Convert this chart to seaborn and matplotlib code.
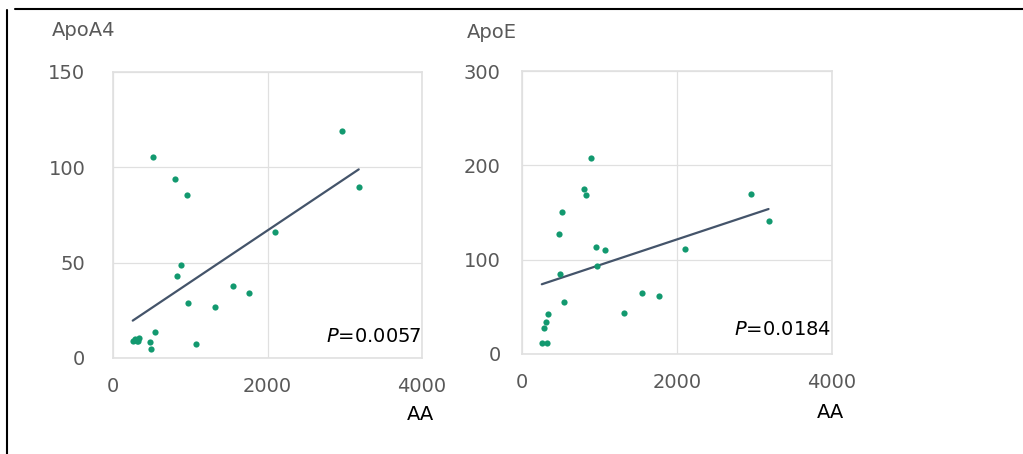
import numpy as np
import pandas as pd
import matplotlib
matplotlib.use("Agg")
import matplotlib.pyplot as plt
from matplotlib.lines import Line2D
import seaborn as sns

# =========================
# DATA
# =========================
aa = [255, 282, 308, 321, 338, 480, 485, 520, 537, 800, 822,
      886, 957, 965, 1077, 1316, 1552, 1764, 2102, 2958, 3181]
apoa4 = [8.9, 10, 9, 8.7, 10.4, 8.2, 4.7, 105.6, 13.6, 94, 43.2,
         48.8, 85.5, 29, 7.5, 26.5, 37.8, 33.9, 65.9, 119.2, 89.7]
apoe = [12, 27.9, 33.6, 11.3, 42.4, 126.9, 85.1, 150.2, 54.8, 174.6, 168.9,
        207.4, 113.4, 93.3, 110.2, 43.1, 65, 61.2, 111.3, 169.6, 141.3]

panels = ["ApoA4", "ApoE"]
p_values = ["0.0057", "0.0184"]
y_ticks = [[0, 50, 100, 150], [0, 100, 200, 300]]
x_ticks = [0, 2000, 4000]

df = pd.DataFrame({"AA": aa, "ApoA4": apoa4, "ApoE": apoe})

# =========================
# STYLE
# =========================
sns.set_style("white")
plt.rcParams["font.family"] = ["DejaVu Sans"]

point_color = "#12996f"
line_color = "#44546a"
grid_color = "#e0e0e0"
tick_color = "#595959"

fig = plt.figure(figsize=(10.23, 4.54), dpi=100)

ax_pos = [[0.1105, 0.2115, 0.302, 0.630],
          [0.5103, 0.2203, 0.303, 0.6233]]
ylabel_xy = [(52, 30), (467, 33)]
xlabel_xy = [(420, 415), (830, 413)]
ypad = [20, 15.5]
p_y = [0.075, 0.085]

for i, name in enumerate(panels):
    ax = fig.add_axes(ax_pos[i])
    sns.regplot(
        data=df, x="AA", y=name, ax=ax, ci=None, truncate=True,
        scatter_kws=dict(s=20, color=point_color, alpha=1, linewidths=0, zorder=3),
        line_kws=dict(color=line_color, lw=1.6, zorder=2),
    )
    ax.set_xlim(0, 4000)
    ax.set_ylim(y_ticks[i][0], y_ticks[i][-1])
    ax.set_xticks(x_ticks)
    ax.set_yticks(y_ticks[i])
    ax.grid(True, color=grid_color, lw=0.9)
    ax.set_axisbelow(True)
    for s in ax.spines.values():
        s.set_color(grid_color)
        s.set_linewidth(1.2)
    ax.tick_params(axis="both", length=0, labelsize=14, labelcolor=tick_color)
    ax.tick_params(axis="y", pad=ypad[i])
    ax.tick_params(axis="x", pad=14)
    ax.set_xlabel("")
    ax.set_ylabel("")

    ax.text(0.998, p_y[i], "$P$=" + p_values[i], transform=ax.transAxes,
            ha="right", va="center", fontsize=14, color="black")

    fig.text(ylabel_xy[i][0] / 1023, 1 - ylabel_xy[i][1] / 454, name,
             ha="left", va="center", fontsize=14, color=tick_color)
    fig.text(xlabel_xy[i][0] / 1023, 1 - xlabel_xy[i][1] / 454, "AA",
             ha="center", va="center", fontsize=14, color="black")

# outer frame of the screenshot (top and left edges)
fig.add_artist(Line2D([15 / 1023, 1], [1 - 9 / 454, 1 - 9 / 454],
                      transform=fig.transFigure, color="black", lw=1.5))
fig.add_artist(Line2D([7 / 1023, 7 / 1023], [0, 1 - 10 / 454],
                      transform=fig.transFigure, color="black", lw=1.5))

fig.savefig("out.png", dpi=100)
